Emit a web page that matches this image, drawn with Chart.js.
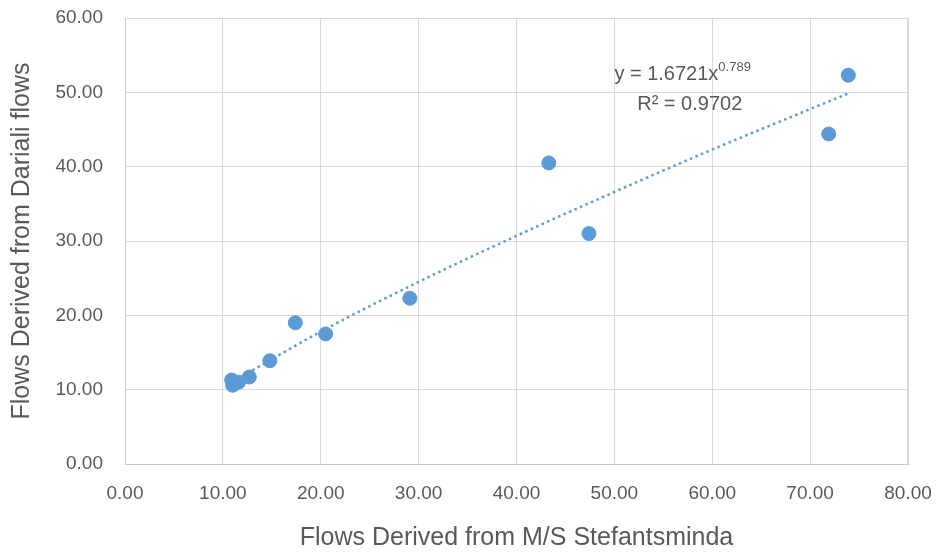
<!DOCTYPE html>
<html>
<head>
<meta charset="utf-8">
<script src="https://cdn.jsdelivr.net/npm/chart.js@4/dist/chart.umd.min.js"></script>
<style>
  html, body { margin: 0; padding: 0; background: #ffffff; }
  #wrap { width: 940px; height: 554px; }
</style>
</head>
<body>
<div id="wrap"><canvas id="c" width="940" height="554"></canvas></div>
<script>
// Observed points (x: Flows Derived from M/S Stefantsminda, y: Flows Derived from Dariali flows)
const xValues = [10.9, 11.0, 11.6, 12.7, 14.8, 17.4, 20.5, 29.1, 43.3, 47.4, 71.9, 73.9];
const yValues = [11.3, 10.6, 11.0, 11.7, 13.9, 19.0, 17.5, 22.3, 40.5, 31.0, 44.4, 52.3];

// Power trendline, points
const trendX = [10.9, 20, 30, 40, 50, 60, 73.9];
const trendY = [11.0, 17.8, 24.5, 30.7, 36.6, 42.3, 49.85];

const xTitle = 'Flows Derived from M/S Stefantsminda';
const yTitle = 'Flows Derived from Dariali flows';
const eqMain = 'y = 1.6721x';
const eqExp = '0.789';
const r2Text = 'R² = 0.9702';

const FONT = "'Liberation Sans', Arial, sans-serif";
const TXT = '#595959';
const BLUE = '#5B9BD5';

const pts = xValues.map((x, i) => ({x, y: yValues[i]}));
const trendPts = trendX.map((x, i) => ({x, y: trendY[i]}));

const eqPlugin = {
  id: 'eqLabel',
  afterDatasetsDraw(chart) {
    const {ctx, scales} = chart;
    const xs = scales.x, ys = scales.y;
    ctx.save();
    ctx.fillStyle = TXT;
    ctx.textBaseline = 'alphabetic';
    ctx.textAlign = 'left';
    const x0 = xs.getPixelForValue(50.0);
    const y0 = ys.getPixelForValue(52.8) + 8;
    ctx.font = '20px ' + FONT;
    ctx.fillText(eqMain, x0, y0);
    const w = ctx.measureText(eqMain).width;
    ctx.font = '13px ' + FONT;
    ctx.fillText(eqExp, x0 + w, y0 - 9);
    ctx.font = '20px ' + FONT;
    ctx.textAlign = 'center';
    ctx.fillText(r2Text, xs.getPixelForValue(57.7), ys.getPixelForValue(48.7) + 8);
    ctx.restore();
  }
};

new Chart(document.getElementById('c'), {
  type: 'scatter',
  data: {
    datasets: [
      {
        label: 'trend',
        type: 'line',
        data: trendPts,
        borderColor: BLUE,
        borderWidth: 2.5,
        borderDash: [2.5, 3.5],
        pointRadius: 0,
        fill: false,
        tension: 0.4,
        cubicInterpolationMode: 'monotone',
        order: 2
      },
      {
        label: 'data',
        data: pts,
        backgroundColor: BLUE,
        borderColor: BLUE,
        pointRadius: 7,
        pointHoverRadius: 7,
        order: 1
      }
    ]
  },
  options: {
    responsive: false,
    animation: false,
    events: [],
    layout: { padding: { left: 0, right: 32, top: 18, bottom: 0 } },
    plugins: { legend: { display: false }, tooltip: { enabled: false } },
    scales: {
      x: {
        type: 'linear',
        min: 0, max: 80,
        ticks: {
          stepSize: 10,
          padding: 18,
          color: TXT,
          font: { family: FONT, size: 19 },
          maxRotation: 0,
          callback: v => Number(v).toFixed(2)
        },
        grid: { color: '#D9D9D9', lineWidth: 1, drawTicks: false },
        border: { color: '#C8C8C8', width: 1 },
        title: {
          display: true, text: xTitle, color: TXT,
          font: { family: FONT, size: 25 },
          padding: { top: 0, bottom: 1 }
        },
        afterFit(s) { s.height = 90; s.paddingLeft = 0; s.paddingRight = 0; }
      },
      y: {
        type: 'linear',
        min: 0, max: 60,
        ticks: {
          stepSize: 10,
          padding: 22,
          color: TXT,
          font: { family: FONT, size: 19 },
          callback: v => Number(v).toFixed(2)
        },
        grid: { color: '#D9D9D9', lineWidth: 1, drawTicks: false },
        border: { color: '#C8C8C8', width: 1 },
        title: {
          display: true, text: yTitle, color: TXT,
          font: { family: FONT, size: 25 },
          padding: { top: 7, bottom: 0 }
        },
        afterFit(s) { s.width = 125; s.paddingTop = 0; s.paddingBottom = 0; }
      }
    }
  },
  plugins: [eqPlugin, {
    id: 'frame',
    afterDraw(chart) {
      const {ctx, chartArea: a} = chart;
      ctx.save();
      ctx.strokeStyle = '#D9D9D9';
      ctx.lineWidth = 1;
      ctx.beginPath();
      ctx.moveTo(a.left, a.top + 0.5); ctx.lineTo(a.right, a.top + 0.5);
      ctx.moveTo(a.right - 0.5, a.top); ctx.lineTo(a.right - 0.5, a.bottom);
      ctx.stroke();
      ctx.restore();
    }
  }]
});
</script>
</body>
</html>
